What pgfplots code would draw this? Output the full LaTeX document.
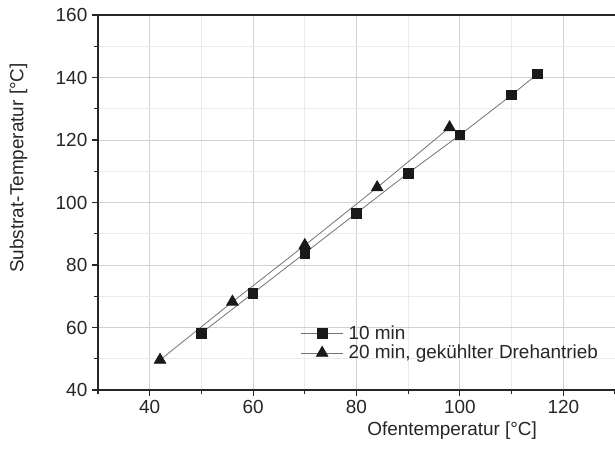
\documentclass[border=0pt]{standalone}
\usepackage{pgfplots}
\pgfplotsset{compat=1.18}
\usepackage{fontspec}
\setmainfont{Liberation Sans}
\begin{document}
\begin{tikzpicture}
\useasboundingbox (-73.5pt,-48pt) rectangle (387.75pt,292.5pt);
\begin{axis}[
  at={(0,0)}, anchor=south west,
  scale only axis, width=387.75pt, height=281.25pt,
  xmin=30, xmax=130, ymin=40, ymax=160,
  xtick={40,60,...,120}, ytick={40,60,...,160},
  minor xtick={30,50,...,130}, minor ytick={50,70,...,150},
  axis lines=left, axis line style={-, line width=1.1pt, black!85},
  tick align=outside,
  tick style={black!85, line width=0.8pt},
  major tick length=4.5pt, minor tick length=3pt,
  grid=both,
  major grid style={black!18, line width=0.7pt},
  minor grid style={black!8, line width=0.6pt},
  /pgf/number format/assume math mode=true,
  ticklabel style={font=\fontsize{14.2}{17}\selectfont, black!85},
  label style={font=\fontsize{14.2}{17}\selectfont, black!85},
  xlabel={Ofentemperatur [°C]},
  ylabel={Substrat-Temperatur [°C]},
  xlabel style={at={(ticklabel cs:0.685)}, anchor=near ticklabel, yshift=1pt},
  ylabel style={at={(axis description cs:-0.154,0.592)}, anchor=center},
  legend style={draw=none, fill=none, at={(0.391,0.18)}, anchor=north west,
    inner sep=0pt, font=\fontsize{14.2}{17}\selectfont, text=black!85,
    row sep=-1pt},
  legend cell align=left,
  legend image code/.code={\draw[mark repeat=2,mark phase=2,#1] plot coordinates {(0pt,0pt) (16pt,0pt) (32pt,0pt)}; \path (33.5pt,0pt);},
]
\draw[line width=1.1pt, black!85] (rel axis cs:0,1) -- (rel axis cs:1,1);
\addplot[black!55, line width=0.6pt, mark=square*, mark size=3.6pt,
  mark options={solid, fill=black!90, draw=black!90}]
  coordinates {(50,58.2) (60,71) (70,83.8) (80,96.6) (90,109.4) (100,121.6) (110,134.4) (115,141.1)};
\addlegendentry{10 min}
\addplot[black!55, line width=0.6pt, mark=triangle*, mark size=5pt,
  mark options={solid, fill=black!90, draw=black!90}]
  coordinates {(42,49.6) (56,68.2) (70,86.3) (84,104.8) (98,124)};
\addlegendentry{20 min, gekühlter Drehantrieb}
\end{axis}
\end{tikzpicture}
\end{document}
